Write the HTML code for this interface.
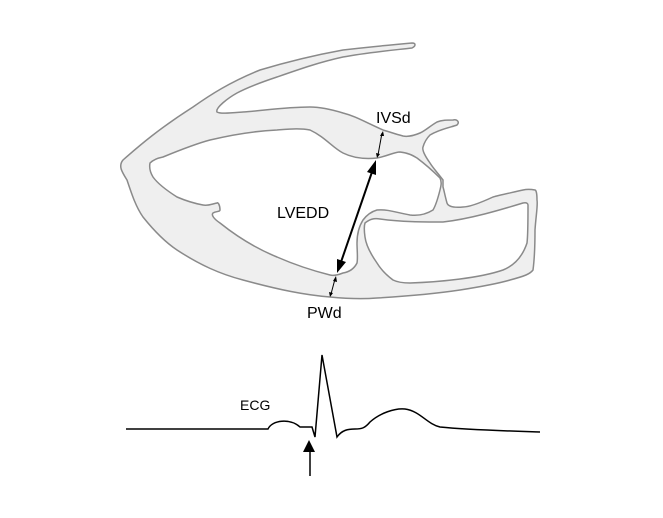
<!DOCTYPE html>
<html><head><style>body{margin:0;background:#fff}svg{display:block}</style></head><body>
<svg width="663" height="518" viewBox="0 0 663 518" xmlns="http://www.w3.org/2000/svg" font-family="Liberation Sans, sans-serif">
<path d="M412,43 C390,45 360,48 343,50 C310,56 280,64 260,70 C230,82 210,95 193,107 C160,128 140,145 123,160 C118,166 122,172 127,180 C132,195 136,207 143,217 C155,232 165,242 177,250 C200,265 220,274 243,280 C280,290 305,295 330,297 C350,299 365,299 377,298 C410,296 440,293 460,290 C485,286 500,283 510,280 C525,276 530,274 533,270 C535,255 535,240 535,230 C536,215 538,205 537,200 C537,193 536,190 535,190 C530,189 527,189 523,190 C510,193 500,195 493,197 C480,203 470,207 463,207 C452,208 448,206 447,203 C445,196 444,190 443,187 C443,183 443,181 443,180 C437,172 433,168 430,163 C425,156 422,150 423,147 C425,140 428,137 430,135 C440,129 452,127 457,125 C460,122 457,119 453,120 C447,120 442,120 437,122 C430,126 425,131 420,133 C413,136 408,137 403,136 C395,134 390,132 383,130 C365,122 355,116 343,113 C330,109 320,107 310,107 C285,107 260,111 243,112 C230,113 220,114 217,112 C215,108 228,98 237,93 C250,86 265,81 277,77 C300,69 320,62 343,57 C370,52 395,50 412,48 C416,46 416,43 412,43 Z" fill="#efefef" stroke="#8a8a8a" stroke-width="1.5"/>
<path d="M150,163 C153,160 158,158 163,157 C180,150 195,144 210,140 C235,134 255,131 277,130 C290,129 300,128 310,130 C325,137 333,148 343,153 C355,159 367,159 377,158 C388,156 394,152 400,152 C408,153 412,155 417,158 C425,164 433,171 440,178 C442,182 441,186 440,190 C438,198 436,205 433,210 C425,215 418,216 410,215 C398,213 388,209 377,210 C370,212 366,216 363,220 C358,228 357,236 357,243 C357,250 358,258 357,263 C354,269 349,272 343,273 C338,275 334,276 330,275 C310,270 293,264 277,257 C255,248 235,235 220,223 C214,219 211,215 213,213 C216,211 220,212 220,210 C220,205 218,202 217,203 C212,204 208,206 203,205 C192,203 184,200 177,197 C166,190 158,184 153,177 C150,172 149,168 150,163 Z" fill="#fff" stroke="#8a8a8a" stroke-width="1.5"/>
<path d="M365,223 C370,219 374,218 380,219 C400,222 425,222 443,222 C470,219 500,210 523,203 C527,202 528,204 528,205 C528,220 528,235 527,243 C522,258 513,266 503,270 C480,278 440,282 410,283 C402,283 397,282 393,280 C385,274 380,268 377,263 C370,253 366,245 365,237 C364,230 364,226 365,223 Z" fill="#fff" stroke="#8a8a8a" stroke-width="1.5"/>
<g stroke="#000" fill="#000">
<line x1="382" y1="133" x2="378" y2="155" stroke-width="1"/>
<path d="M383,131 l-3,5 l4,0 z M377,158 l-1,-5 l4,1 z" stroke="none"/>
<line x1="372" y1="172" x2="341" y2="262" stroke-width="2"/>
<path d="M376,160 l-9,12 l9,3 z M337,273 l0,-14 l9,3 z" stroke="none"/>
<line x1="335" y1="279" x2="331" y2="294" stroke-width="1"/>
<path d="M336,276 l-3,5 l4,1 z M330,297 l-1,-5 l4,1 z" stroke="none"/>
</g>
<text x="376" y="123" font-size="16">IVSd</text>
<text x="277" y="218" font-size="16">LVEDD</text>
<text x="307" y="318" font-size="16">PWd</text>
<text x="240" y="410" font-size="14">ECG</text>
<path d="M126,429 L268,429 C272,420 290,418 300,427 L312,427 L315,437 L322,355 L337,437 C342,430 348,429 355,429 C362,429 365,428 370,422 C380,413 395,408 405,409 C420,411 427,424 440,427 C470,430 510,431 540,432" fill="none" stroke="#000" stroke-width="1.5"/>
<line x1="310" y1="476" x2="310" y2="448" stroke="#000" stroke-width="1.5"/>
<path d="M309,440 l-6,12 l12,0 z" fill="#000"/>
</svg>
</body></html>
